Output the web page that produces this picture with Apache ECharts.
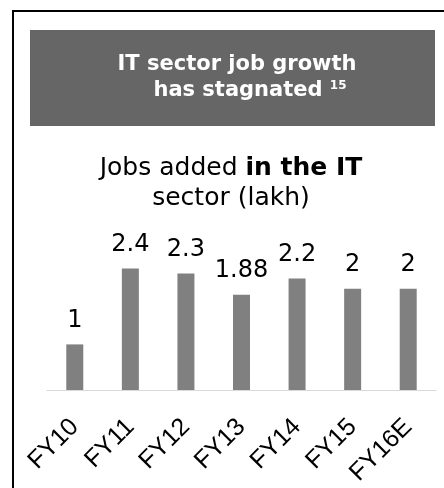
<!DOCTYPE html>
<html>
<head>
<meta charset="utf-8">
<script src="https://cdn.jsdelivr.net/npm/echarts@6/dist/echarts.min.js"></script>
<style>
  html, body { margin: 0; padding: 0; background: #fff; }
  #main { width: 444px; height: 488px; }
</style>
</head>
<body>
<div id="main"></div>
<script>
// data
const categories = ["FY10", "FY11", "FY12", "FY13", "FY14", "FY15", "FY16E"];
const barHeights = [0.9, 2.4, 2.3, 1.88, 2.2, 2.0, 2.0];
const barLabels = ["1", "2.4", "2.3", "1.88", "2.2", "2", "2"];

const chartDom = document.getElementById("main");
const myChart = echarts.init(chartDom, null, { renderer: "canvas" });

const option = {
  animation: false,
  backgroundColor: "#fff",
  graphic: [
    // outer frame
    {
      type: "rect",
      shape: { x: 13, y: 11, width: 500, height: 500 },
      style: { fill: "none", stroke: "#000", lineWidth: 2 },
    },
    // header box
    {
      type: "rect",
      shape: { x: 30, y: 30, width: 405, height: 96 },
      style: { fill: "#666666" },
    },
  ],
  title: [
    {
      text: "IT sector job growth",
      left: 232,
      top: 49,
      textAlign: "center",
      textStyle: {
        color: "#fff",
        fontFamily: "DejaVu Sans",
        fontWeight: "bold",
        fontSize: 21,
      },
    },
    {
      text: "has stagnated {sup|15}",
      left: 245,
      top: 75,
      textAlign: "center",
      textStyle: {
        color: "#fff",
        fontFamily: "DejaVu Sans",
        fontWeight: "bold",
        fontSize: 21,
        rich: {
          sup: {
            color: "#fff",
            fontFamily: "DejaVu Sans",
            fontWeight: "bold",
            fontSize: 12,
            verticalAlign: "top",
            padding: [0, 0, 10, 0],
          },
        },
      },
    },
    {
      text: "Jobs added {b|in the IT}\nsector (lakh)",
      left: 226,
      top: 148,
      textAlign: "center",
      textStyle: {
        color: "#000",
        fontFamily: "DejaVu Sans",
        fontWeight: "normal",
        fontSize: 25,
        lineHeight: 30,
        rich: {
          b: {
            fontFamily: "DejaVu Sans",
            fontWeight: "bold",
            fontSize: 25,
            lineHeight: 30,
            color: "#000",
          },
        },
      },
    },
  ],
  grid: {
    left: 47,
    right: 8,
    top: 238,
    bottom: 97,
  },
  xAxis: {
    type: "category",
    data: categories,
    axisLine: { show: true, lineStyle: { color: "#d9d9d9", width: 1 } },
    axisTick: { show: false },
    axisLabel: {
      interval: 0,
      rotate: 45,
      margin: 33,
      color: "#000",
      fontFamily: "Liberation Sans",
      fontSize: 25,
    },
  },
  yAxis: {
    type: "value",
    min: 0,
    max: 3,
    show: false,
  },
  series: [
    {
      type: "bar",
      data: barHeights,
      barWidth: 17,
      itemStyle: { color: "#808080" },
      label: {
        show: true,
        position: "top",
        distance: 12,
        color: "#000",
        fontFamily: "DejaVu Sans",
        fontSize: 24,
        formatter: function (p) {
          return barLabels[p.dataIndex];
        },
      },
    },
  ],
};
myChart.setOption(option);
</script>
</body>
</html>
